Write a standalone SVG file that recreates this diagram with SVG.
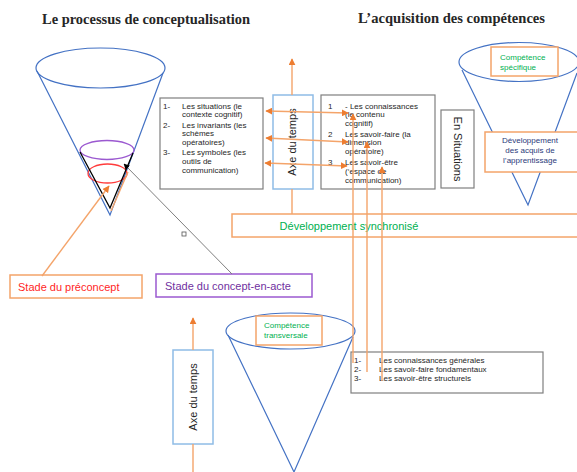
<svg xmlns="http://www.w3.org/2000/svg" width="577" height="472" viewBox="0 0 577 472">
<style>
.title{font-family:"Liberation Serif","DejaVu Serif",serif;font-weight:bold;font-size:14px;fill:#262626}
.t{font-family:"Liberation Sans","Open Sans",sans-serif;font-size:8px;fill:#262626}
.lbl{font-family:"Liberation Sans","Open Sans",sans-serif;font-size:11px}
.green{fill:#00B050}
.cone{fill:none;stroke:#4472C4;stroke-width:1.2}
.gbox{fill:#fff;stroke:#7F7F7F;stroke-width:1.2}
.obox{fill:#fff;stroke:#F4A46A;stroke-width:1.5}
.bbox{fill:#fff;stroke:#8FBCE6;stroke-width:1.5}
.ol{fill:none;stroke:#F4A46A;stroke-width:1.4}
</style>
<defs>
<marker id="oa" viewBox="0 0 10 10" refX="9" refY="5" markerWidth="5" markerHeight="5" orient="auto-start-reverse"><path d="M0,0L10,5L0,10z" fill="#ED7D31"/></marker>
<marker id="ba" viewBox="0 0 10 10" refX="9" refY="5" markerWidth="6" markerHeight="6" orient="auto"><path d="M0,0L10,5L0,10z" fill="#000"/></marker>
</defs>
<rect width="577" height="472" fill="#fff"/>
<text class="title" x="42" y="24" textLength="208" lengthAdjust="spacingAndGlyphs">Le processus de conceptualisation</text>
<text class="title" x="358" y="23" textLength="187" lengthAdjust="spacingAndGlyphs">L’acquisition des compétences</text>

<g id="cone-left">
<ellipse class="cone" cx="100.5" cy="68" rx="64.5" ry="20"/>
<path class="cone" d="M37,71L110,215L163,73"/>
<ellipse cx="107" cy="150" rx="27" ry="9.5" fill="none" stroke="#9B59D0" stroke-width="1.3"/>
<ellipse cx="107.5" cy="173.5" rx="19.5" ry="9.5" fill="none" stroke="#FF3B3B" stroke-width="1.3"/>
<path d="M128,172L111,211" fill="none" stroke="#F4A46A" stroke-width="1.4"/>
<path d="M80,152L110,208L133,153" fill="none" stroke="#000" stroke-width="1.3"/>
</g>

<g id="box-left">
<rect class="gbox" x="160" y="98" width="103" height="91"/>
<g class="t">
<text x="163" y="109">1-</text><text x="182" y="109">Les situations (le</text>
<text x="182" y="117">contexte cognitif)</text>
<text x="163" y="128">2-</text><text x="182" y="128">Les invariants (les</text>
<text x="182" y="136">schèmes</text>
<text x="182" y="145">opératoires)</text>
<text x="163" y="155">3-</text><text x="182" y="155">Les symboles (les</text>
<text x="182" y="164">outils de</text>
<text x="182" y="173">communication)</text>
</g>
</g>

<g id="axe-haut">
<rect class="bbox" x="273" y="95" width="40" height="94"/>
<text class="lbl" font-size="10.5" fill="#262626" transform="translate(296,142) rotate(-90)" text-anchor="middle">Axe du temps</text>
</g>

<g id="box-middle">
<rect class="gbox" x="321" y="95" width="114" height="94"/>
<g class="t">
<text x="328" y="109">1</text><text x="345" y="109">- Les connaissances</text>
<text x="345" y="117">(le contenu</text>
<text x="345" y="126">cognitif)</text>
<text x="328" y="137">2</text><text x="345" y="137">Les savoir-faire (la</text>
<text x="345" y="145">dimension</text>
<text x="345" y="154">opératoire)</text>
<text x="328" y="165">3</text><text x="345" y="165">Les savoir-être</text>
<text x="345" y="174">(‘espace de</text>
<text x="345" y="183">communication)</text>
</g>
</g>

<g id="en-situations">
<rect class="gbox" x="441" y="110" width="33" height="78"/>
<text class="lbl" font-size="10.5" fill="#262626" transform="translate(454,149) rotate(90)" text-anchor="middle">En Situations</text>
</g>

<g id="cone-right">
<ellipse class="cone" cx="519" cy="62" rx="60" ry="19.5"/>
<path class="cone" d="M462,70L528,205L577,73"/>
</g>
<g id="competence-specifique">
<rect class="obox" x="491" y="47" width="67" height="29"/>
<text class="t green" x="500" y="60">Compétence</text>
<text class="t green" x="500" y="70">spécifique</text>
</g>
<g id="developpement-acquis">
<rect class="obox" x="485" y="132" width="95" height="40"/>
<g class="t" text-anchor="middle" style="fill:#2B3A7A">
<text x="530" y="143">Développement</text>
<text x="530" y="153">des acquis de</text>
<text x="530" y="163">l’apprentissage</text>
</g>
</g>

<g id="developpement-synchronise">
<rect class="obox" x="232" y="214" width="350" height="23"/>
<text class="lbl green" x="349" y="230" text-anchor="middle" font-size="11.5">Développement synchronisé</text>
</g>

<g id="stade-preconcept">
<rect class="obox" x="10" y="275" width="132" height="23"/>
<text class="lbl" x="18" y="291" fill="#FF1F1F">Stade du préconcept</text>
</g>
<g id="stade-concept-en-acte">
<rect x="156" y="274" width="156" height="23" fill="#fff" stroke="#9B59D0" stroke-width="1.5"/>
<text class="lbl" x="165" y="290" fill="#7030A0">Stade du concept-en-acte</text>
</g>

<g id="axe-bas">
<rect class="bbox" x="173" y="350" width="40" height="94"/>
<text class="lbl" font-size="10.5" fill="#262626" transform="translate(197,397) rotate(-90)" text-anchor="middle">Axe du temps</text>
</g>

<g id="cone-bas">
<ellipse class="cone" cx="290.5" cy="331" rx="64.5" ry="18"/>
<path class="cone" d="M228,335L294,472L353,337"/>
</g>
<g id="competence-transversale">
<rect class="obox" x="256" y="316" width="66" height="29"/>
<text class="t green" x="264" y="328">Compétence</text>
<text class="t green" x="264" y="338">transversale</text>
</g>

<g id="box-bas">
<rect x="351" y="352" width="192" height="41" fill="none" stroke="#7F7F7F" stroke-width="1.2"/>
<g class="t">
<text x="354" y="363">1-</text><text x="379" y="363">Les connaissances générales</text>
<text x="354" y="372">2-</text><text x="379" y="372">Les savoir-faire fondamentaux</text>
<text x="354" y="381">3-</text><text x="379" y="381">Les savoir-être structurels</text>
</g>
</g>

<g id="connectors">
<line x1="232" y1="274" x2="124" y2="164" stroke="#7F7F7F" stroke-width="1" marker-end="url(#ba)"/>
<rect x="182" y="232" width="4" height="4" fill="#fff" stroke="#555" stroke-width="0.8"/>
<line class="ol" x1="42" y1="276" x2="109" y2="186" marker-end="url(#oa)"/>
<line class="ol" x1="292" y1="95" x2="292" y2="59" marker-end="url(#oa)"/>
<line class="ol" x1="292" y1="189" x2="292" y2="214"/>
<line class="ol" x1="266" y1="111" x2="348" y2="113" marker-start="url(#oa)" marker-end="url(#oa)"/>
<line class="ol" x1="266" y1="138" x2="348" y2="142" marker-start="url(#oa)" marker-end="url(#oa)"/>
<line class="ol" x1="265" y1="163" x2="347" y2="166" marker-start="url(#oa)" marker-end="url(#oa)"/>
<line class="ol" x1="193" y1="350" x2="193" y2="318" marker-end="url(#oa)"/>
<line class="ol" x1="193" y1="444" x2="193" y2="472"/>
<line class="ol" x1="353" y1="363" x2="353" y2="114" marker-end="url(#oa)"/>
<line class="ol" x1="367" y1="372" x2="367" y2="142" marker-end="url(#oa)"/>
<line class="ol" x1="382" y1="381" x2="382" y2="167" marker-end="url(#oa)"/>
</g>
</svg>
